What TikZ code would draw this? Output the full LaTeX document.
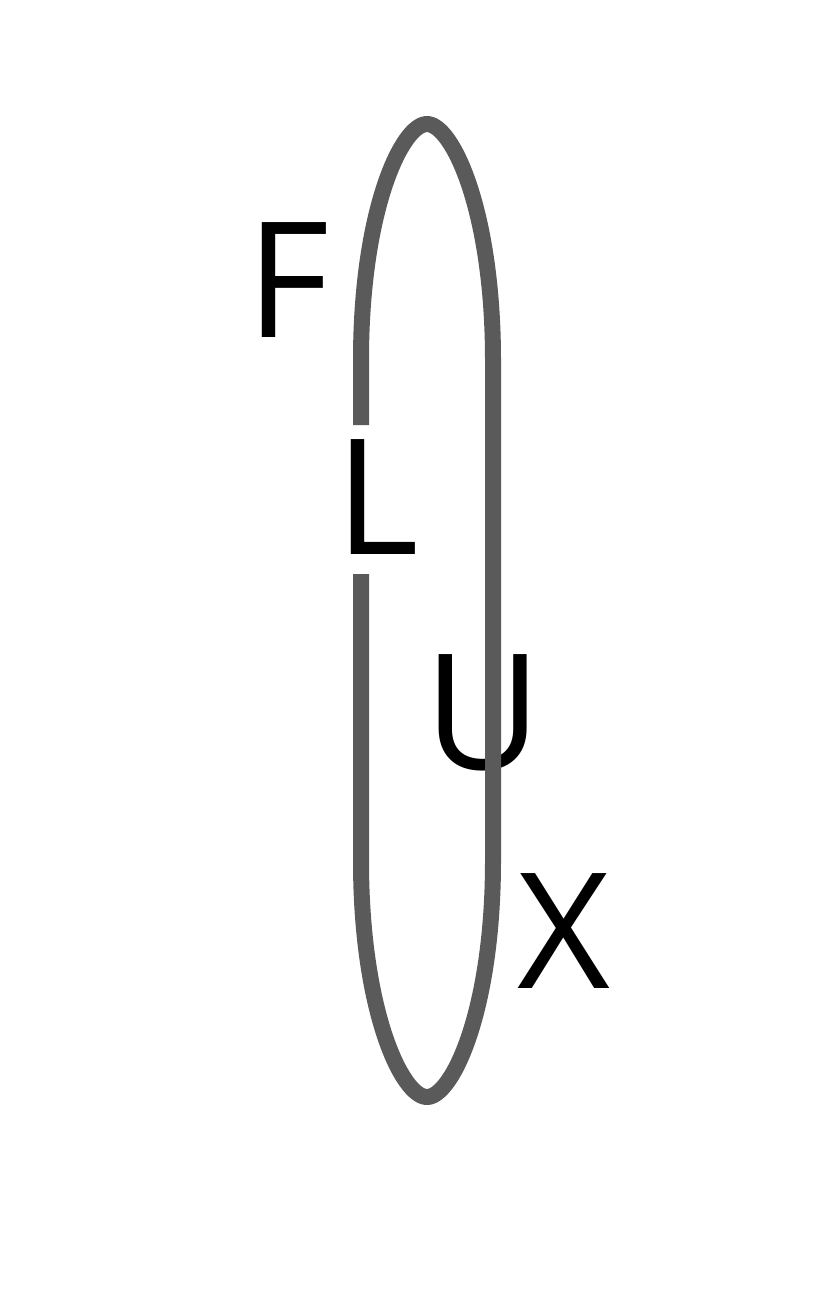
\documentclass[tikz,border=0pt]{standalone}
\usepackage{fontspec}
\setmainfont{Open Sans}
\begin{document}
\begin{tikzpicture}[x=1pt,y=-1pt,
  letter/.style={font=\fontsize{161}{161}\selectfont, text=black, inner sep=0pt, anchor=base},
  loop/.style={draw=loopgray, line width=16pt, line cap=butt, line join=round}]
\definecolor{loopgray}{HTML}{5A5A5A}
\useasboundingbox (0,0) rectangle (823,1296);
\fill[white] (0,0) rectangle (823,1296);
\node[letter] (F) at (288.5,337) {F};
\node[letter] (L) at (377.5,554) {L};
\node[letter] (U) at (483,769) {U};
\node[letter] (X) at (564,988) {X};
\coordinate (gaptop) at (361,425);
\coordinate (gapbot) at (361,574);
\coordinate (apextop) at (427,124);
\coordinate (apexbot) at (427,1097);
\draw[loop] (gaptop) -- (361,360) .. controls (361,210) and (402,124) .. (apextop)
  .. controls (452,124) and (493,210) .. (493,360) -- (493,861)
  .. controls (493,1011) and (452,1097) .. (apexbot)
  .. controls (402,1097) and (361,1011) .. (361,861) -- (gapbot);
\end{tikzpicture}
\end{document}
